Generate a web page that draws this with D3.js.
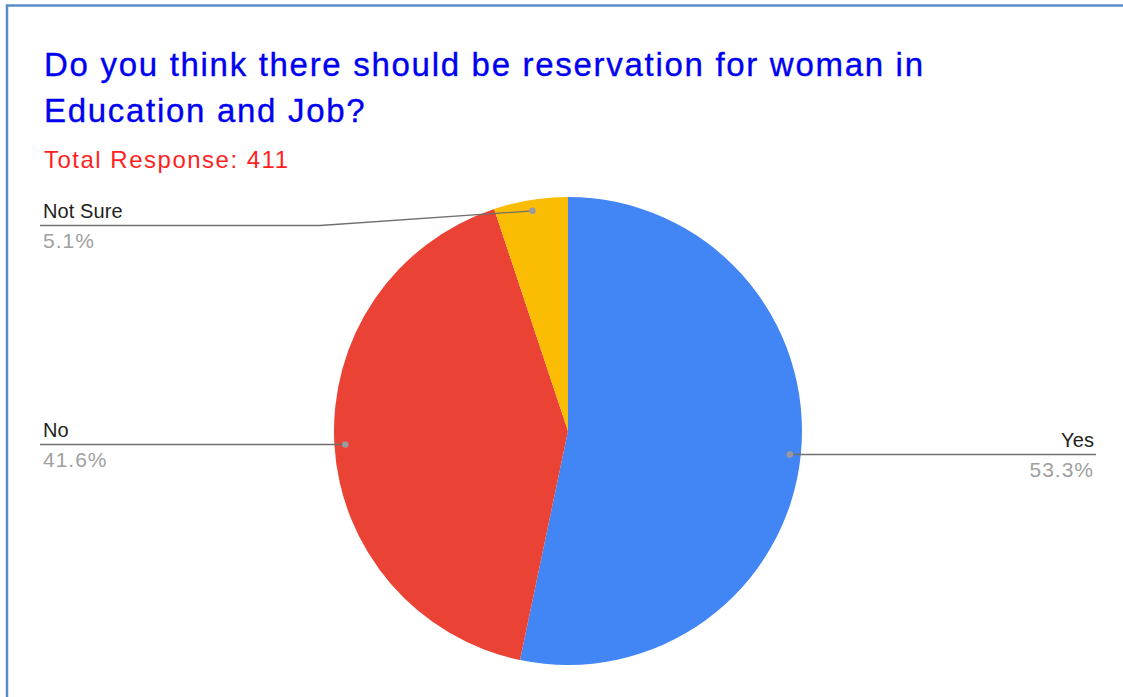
<!DOCTYPE html>
<html>
<head>
<meta charset="utf-8">
<script src="https://cdn.jsdelivr.net/npm/d3@7"></script>
<style>
  html, body { margin: 0; padding: 0; background: #fff; }
  svg { display: block; }
</style>
</head>
<body>
<svg id="chart" width="1123" height="697"></svg>
<script>
// Survey answers and response counts (total 411)
const categories = ["Yes", "No", "Not Sure"];
const counts = [219, 171, 21];
const colors = ["#4285f4", "#ea4335", "#fbbc04"];
const titleLines = ["Do you think there should be reservation for woman in", "Education and Job?"];
const subtitle = "Total Response: 411";

const W = 1123, H = 697;
const svg = d3.select("#chart");
const font = "'Liberation Sans', Arial, sans-serif";

// frame
svg.append("path")
  .attr("d", `M7,${H} L7,5.5 L${W},5.5`)
  .attr("fill", "none").attr("stroke", "#5b8bc9").attr("stroke-width", 2.5);

// title
svg.append("g").selectAll("text").data(titleLines).join("text")
  .attr("x", 44).attr("y", (d, i) => 76 + i * 45.5)
  .attr("font-family", font).attr("font-size", 33)
  .attr("letter-spacing", 1.7)
  .attr("fill", "#0000f0").attr("stroke", "#0000f0").attr("stroke-width", 0.35)
  .text(d => d);

svg.append("text")
  .attr("x", 44).attr("y", 168)
  .attr("font-family", font).attr("font-size", 24)
  .attr("letter-spacing", 1.5)
  .attr("fill", "#ff1f1f")
  .text(subtitle);

// pie
const cx = 568, cy = 431, r = 234;
const total = d3.sum(counts);
const data = categories.map((c, i) => ({ name: c, value: counts[i], color: colors[i] }));
const pie = d3.pie().value(d => d.value).sort(null);
const arcs = pie(data);
const arc = d3.arc().innerRadius(0).outerRadius(r);

const g = svg.append("g").attr("transform", `translate(${cx},${cy})`);
g.selectAll("path").data(arcs).join("path")
  .attr("d", arc)
  .attr("fill", d => d.data.color);

// leader lines and labels
const pct = d => d3.format(".1f")(d.data.value / total * 100) + "%";
const anchorPt = d => {
  const a = (d.startAngle + d.endAngle) / 2;
  const rr = r * 0.953;
  return [cx + rr * Math.sin(a), cy - rr * Math.cos(a)];
};

// label placement: side and row of the horizontal rule
const labelLayout = {
  "Yes": { side: "right", y: 454.5, x0: 1096, elbow: null },
  "No": { side: "left", y: 444.5, x0: 40, elbow: null },
  "Not Sure": { side: "left", y: 225.5, x0: 40, elbow: 320 }
};

const lg = svg.append("g");
arcs.forEach(d => {
  const L = labelLayout[d.data.name];
  const [px, py] = anchorPt(d);
  let pts;
  if (L.elbow !== null) pts = [[L.x0, L.y], [L.elbow, L.y], [px, py]];
  else pts = [[L.x0, L.y], [px, L.y]];
  lg.append("path")
    .attr("d", d3.line()(pts))
    .attr("fill", "none").attr("stroke", "#6f6f6f").attr("stroke-width", 1.3);
  lg.append("circle").attr("cx", px).attr("cy", L.elbow !== null ? py : L.y).attr("r", 3.3).attr("fill", "#9a9a9a");
  const tx = L.side === "left" ? 43 : 1094;
  const anchor = L.side === "left" ? "start" : "end";
  lg.append("text")
    .attr("x", tx).attr("y", L.y - 8)
    .attr("text-anchor", anchor)
    .attr("font-family", font).attr("font-size", 20).attr("letter-spacing", 0.1)
    .attr("fill", "#222")
    .text(d.data.name);
  lg.append("text")
    .attr("x", tx).attr("y", L.y + 22.5)
    .attr("text-anchor", anchor)
    .attr("font-family", font).attr("font-size", 21).attr("letter-spacing", 1)
    .attr("fill", "#a0a0a0")
    .text(pct(d));
});
</script>
</body>
</html>
